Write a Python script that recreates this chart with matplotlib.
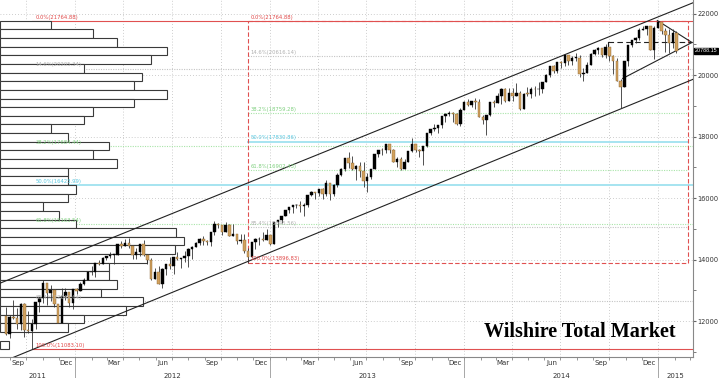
import numpy as np
import pandas as pd
import matplotlib
matplotlib.use('Agg')
import matplotlib.pyplot as plt
import matplotlib.dates as mdates
from matplotlib.patches import Rectangle
from matplotlib.transforms import blended_transform_factory

# --- weekly candles (Wilshire Total Market) ---
weeks = pd.date_range('2011-08-24', periods=181, freq='7D')

opens = [12150, 11590, 12130, 12100, 11900, 12540, 11710, 11660, 11910, 12620,
         12760, 13250, 12920, 13020, 12540, 11950, 12830, 12940, 12570, 13040,
         12970, 13200, 13320, 13580, 13590, 13890, 13860, 14060, 14110, 14150,
         14160, 14500, 14430, 14540, 14440, 14150, 14250, 14490, 14140, 13980,
         13380, 13610, 13200, 13690, 13870, 13790, 14070, 14020, 14040, 14110,
         14350, 14400, 14550, 14680, 14600, 14560, 14880, 15170, 15110, 14910,
         15120, 14780, 14830, 14610, 14630, 14280, 14070, 14580, 14660, 14680,
         14620, 14800, 14510, 15220, 15280, 15420, 15600, 15700, 15760, 15780,
         15740, 15760, 16100, 16200, 16150, 16290, 16120, 16480, 16140, 16420,
         16750, 16950, 17300, 17130, 16930, 17050, 16890, 16540, 16670, 16940,
         17440, 17560, 17550, 17750, 17550, 17180, 17270, 16950, 17180, 17520,
         17750, 17560, 17540, 17680, 18110, 18260, 18290, 18380, 18660, 18730,
         18750, 18740, 18420, 18870, 19110, 19040, 19160, 19130, 18620, 18540,
         18690, 19120, 19090, 19330, 19530, 19150, 19410, 19310, 19400, 18890,
         19390, 19380, 19560, 19530, 19530, 19760, 20010, 20280, 20130, 20420,
         20390, 20640, 20470, 20570, 20570, 20020, 20080, 20330, 20680, 20830,
         20870, 20640, 20910, 20610, 20470, 19820, 19620, 20440, 20990, 21130,
         21210, 21470, 21510, 21580, 20830, 21540, 21730, 21440, 21310, 21040, 21370]

highs = [12450, 12180, 12680, 12410, 12580, 12580, 12320, 12070, 12620, 12770,
         13330, 13250, 13170, 13050, 12540, 13080, 13060, 12940, 13040, 13080,
         13260, 13390, 13580, 13780, 13890, 13990, 14080, 14130, 14230, 14190,
         14520, 14610, 14660, 14690, 14440, 14380, 14520, 14620, 14180, 14040,
         13720, 13780, 13740, 13870, 14090, 14080, 14230, 14040, 14280, 14390,
         14430, 14570, 14700, 14760, 14620, 14880, 15260, 15180, 15120, 15210,
         15150, 15150, 14840, 14840, 14830, 14380, 14580, 14690, 14740, 14880,
         14990, 14800, 15230, 15280, 15430, 15600, 15720, 15760, 15820, 15890,
         15830, 16110, 16230, 16200, 16300, 16330, 16580, 16480, 16450, 16800,
         16970, 17300, 17510, 17380, 17090, 17170, 17180, 16820, 16940, 17440,
         17570, 17630, 17750, 17750, 17590, 17320, 17330, 17270, 17530, 17960,
         17760, 17600, 17690, 18110, 18260, 18420, 18380, 18660, 18750, 18820,
         18790, 18780, 18920, 19140, 19230, 19170, 19240, 19230, 18700, 18700,
         19120, 19200, 19420, 19580, 19580, 19580, 19590, 19730, 19480, 19400,
         19600, 19600, 19650, 19780, 19770, 20020, 20280, 20330, 20430, 20470,
         20640, 20640, 20620, 20710, 20640, 20220, 20430, 20730, 20860, 20910,
         20880, 21000, 20910, 20640, 20560, 19880, 20440, 20990, 21150, 21230,
         21540, 21580, 21590, 21580, 21600, 21765, 21740, 21520, 21510, 21510, 21430]

lows = [11560, 11440, 12060, 11750, 11710, 11490, 11620, 11083, 11730, 12280,
        12580, 12530, 12640, 12460, 11940, 11940, 12690, 12460, 12400, 12870,
        12970, 13160, 13320, 13490, 13430, 13810, 13840, 13990, 14040, 13840,
        14160, 14370, 14430, 14390, 14030, 14020, 14110, 14120, 13870, 13340,
        13380, 13190, 13080, 13490, 13680, 13520, 13990, 13720, 13920, 13760,
        14010, 14400, 14460, 14470, 14460, 14450, 14790, 15010, 14800, 14900,
        14750, 14770, 14520, 14540, 14210, 13897, 14070, 14330, 14470, 14600,
        14620, 14470, 14510, 15060, 15190, 15410, 15520, 15520, 15670, 15550,
        15410, 15720, 16060, 15960, 16050, 15970, 16070, 15940, 16070, 16370,
        16730, 16890, 16970, 16920, 16590, 16690, 16370, 16190, 16620, 16940,
        17330, 17400, 17450, 17480, 17170, 17010, 16900, 16950, 17180, 17510,
        17510, 17330, 17090, 17650, 18060, 18190, 18120, 18270, 18480, 18660,
        18470, 18390, 18340, 18870, 19000, 18960, 18880, 18620, 18410, 18060,
        18680, 18970, 19080, 19070, 19130, 19140, 19160, 19310, 18870, 18890,
        19320, 19250, 19330, 19360, 19430, 19760, 19920, 20070, 20070, 20220,
        20300, 20310, 20330, 20470, 19930, 19810, 20060, 20320, 20640, 20700,
        20590, 20570, 20440, 20030, 19820, 18940, 19610, 20290, 20910, 21050,
        21150, 21470, 21310, 20820, 20510, 21520, 21320, 20760, 20720, 20890, 20730]

closes = [11590, 12130, 12100, 11900, 12540, 11710, 11660, 11910, 12620, 12760,
          13250, 12920, 13020, 12540, 11950, 12830, 12940, 12570, 13040, 12970,
          13200, 13320, 13580, 13590, 13890, 13860, 14060, 14110, 14150, 14160,
          14500, 14430, 14540, 14440, 14150, 14250, 14490, 14140, 13980, 13380,
          13610, 13200, 13690, 13870, 13790, 14070, 14020, 14040, 14110, 14350,
          14400, 14550, 14680, 14600, 14560, 14880, 15170, 15110, 14910, 15120,
          14780, 14830, 14610, 14630, 14280, 14070, 14580, 14660, 14680, 14620,
          14800, 14510, 15220, 15280, 15420, 15600, 15700, 15760, 15780, 15740,
          15760, 16100, 16200, 16150, 16290, 16120, 16480, 16140, 16420, 16750,
          16950, 17300, 17130, 16930, 17050, 16890, 16540, 16670, 16940, 17440,
          17560, 17550, 17750, 17550, 17180, 17270, 16950, 17180, 17520, 17750,
          17560, 17540, 17680, 18110, 18260, 18290, 18380, 18660, 18730, 18750,
          18740, 18420, 18870, 19110, 19040, 19160, 19130, 18620, 18540, 18690,
          19120, 19090, 19330, 19530, 19150, 19410, 19310, 19400, 18890, 19390,
          19380, 19560, 19530, 19530, 19760, 20010, 20280, 20130, 20420, 20390,
          20640, 20470, 20570, 20570, 20020, 20080, 20330, 20680, 20830, 20870,
          20640, 20910, 20610, 20470, 19820, 19620, 20440, 20990, 21130, 21210,
          21470, 21510, 21580, 20830, 21540, 21730, 21440, 21310, 21040, 21370, 20788.15]

# --- price histogram on the left (top bin first) ---
profile = [51, 93, 117, 167, 151, 84, 142, 134, 167, 134,
           93, 84, 51, 68, 109, 93, 117, 68, 68, 76,
           68, 43, 59, 76, 176, 184, 175, 147, 109, 109,
           117, 101, 143, 126, 84, 68, 0, 9]

# --- fibonacci retracements ---
fib_levels = [0.0, 14.6, 38.2, 50.0, 61.8, 85.4, 100.0]
left_fib = [21764.88, 20205.34, 17684.44, 16423.99, 15163.54, 12642.64, 11083.10]
right_fib = [21764.88, 20616.14, 18759.28, 17830.86, 16902.43, 15045.56, 13896.83]
fib_line_colors = ['#e05050', '#c4c4c4', '#a8e4a8', '#a6e4f0', '#a8e4a8', '#c4c4c4', '#e05050']
fib_text_colors = ['#e04848', '#b0b0b0', '#80d080', '#58c8e0', '#80d080', '#b0b0b0', '#e04848']
left_fib_dates = ['2011-10-12', '2015-03-07']
right_fib_dates = ['2012-11-21', '2015-02-26']

# --- trend lines ---
upper_channel = (['2011-08-13', '2015-03-07'], [13230, 22350])
lower_channel = (['2011-08-13', '2015-03-07'], [10640, 19860])
tri_upper = (['2014-12-30', '2015-03-05'], [21773, 21058])
tri_lower = (['2014-10-26', '2015-03-05'], [19890, 21058])
neckline = (['2014-09-29', '2015-03-05'], [21058, 21058])

up_col = '#000000'
down_col = '#d1a15e'
small_font = ['Liberation Sans Narrow', 'DejaVu Sans']

fig = plt.figure(figsize=(7.19, 3.78), dpi=100)
ax = fig.add_axes([0, 21 / 378, 693 / 719, 357 / 378])
x0 = mdates.date2num(pd.Timestamp('2011-08-13'))
x1 = mdates.date2num(pd.Timestamp('2015-03-07'))
ax.set_xlim(x0, x1)
ax.set_ylim(10830, 22440)

def dn(d):
    return mdates.date2num(pd.Timestamp(d))

# grid
for q in pd.date_range('2011-10-01', '2015-01-01', freq='QS'):
    ax.axvline(dn(q), color='#bdbdbd', lw=0.6, ls=(0, (1, 2.5)), zorder=0.5)
ax.set_yticks(np.arange(12000, 22001, 2000))
ax.set_yticks(np.arange(11000, 22001, 2000), minor=True)
ax.grid(axis='y', which='major', color='#bdbdbd', lw=0.6, ls=(0, (1, 2.5)), zorder=0.5)

# fib lines
for i in range(len(fib_levels)):
    ls = '-' if fib_levels[i] in (0.0, 100.0, 50.0) else (0, (1, 1.2))
    lw = 1.4 if fib_levels[i] == 50.0 else 0.8
    ax.plot([dn(left_fib_dates[0]), dn(left_fib_dates[1])], [left_fib[i]] * 2,
            color=fib_line_colors[i], lw=lw, ls=ls, zorder=1)
    ls_r = (0, (4, 2)) if fib_levels[i] in (0.0, 100.0) else ls
    ax.plot([dn(right_fib_dates[0]), dn(right_fib_dates[1])], [right_fib[i]] * 2,
            color=fib_line_colors[i], lw=lw, ls=ls_r, zorder=1)
for d in right_fib_dates:
    ax.plot([dn(d)] * 2, [right_fib[-1], right_fib[0]], color='#e05050', lw=0.8,
            ls=(0, (4, 2)), zorder=1)

# price histogram
edges = np.linspace(left_fib[0], left_fib[-1], len(profile) + 1)
bt = blended_transform_factory(ax.transAxes, ax.transData)
for i, v in enumerate(profile):
    if v <= 0:
        continue
    ax.add_patch(Rectangle((0, edges[i + 1]), v / 693, edges[i] - edges[i + 1],
                           transform=bt, facecolor='white', edgecolor='#3a3a3a',
                           lw=0.8, zorder=2))

# fib labels
for i in range(len(fib_levels)):
    ax.text(dn('2011-10-19'), left_fib[i] + 40, f'{fib_levels[i]:.1f}%({left_fib[i]:.2f})',
            fontsize=3.8, color=fib_text_colors[i], va='bottom', ha='left', zorder=6)
    ax.text(dn('2012-11-25'), right_fib[i] + 40, f'{fib_levels[i]:.1f}%({right_fib[i]:.2f})',
            fontsize=3.8, color=fib_text_colors[i], va='bottom', ha='left', zorder=6)

# trend lines
for dates, prices in (upper_channel, lower_channel, tri_upper, tri_lower):
    ax.plot([dn(d) for d in dates], prices, color='#222222', lw=0.8, zorder=3)
ax.plot([dn(d) for d in neckline[0]], neckline[1], color='#222222', lw=0.8,
        ls=(0, (5, 3)), zorder=3)
ax.plot([dn(neckline[0][0])] * 2, [neckline[1][0], neckline[1][0] - 320],
        color='#222222', lw=0.8, zorder=3)

# candles
xs = mdates.date2num(weeks)
o = np.array(opens, float)
h = np.array(highs, float)
l = np.array(lows, float)
c = np.array(closes, float)
up = c >= o
ax.vlines(xs, l, h, color='#333333', lw=0.6, zorder=4)
body = np.maximum(np.abs(c - o), 20)
ax.bar(xs, body, bottom=np.minimum(o, c), width=4.6,
       color=np.where(up, up_col, down_col),
       edgecolor=np.where(up, up_col, '#8a6430'), lw=0.3, zorder=5)

# axes styling
for s in ('top', 'left'):
    ax.spines[s].set_visible(False)
ax.spines['right'].set_color('#888888')
ax.spines['bottom'].set_color('#888888')
ax.yaxis.tick_right()
ax.tick_params(axis='y', which='both', direction='out', length=2, colors='#666666',
               labelsize=4.8, labelcolor='#333333', pad=1)
ax.set_yticklabels([str(v) for v in range(12000, 22001, 2000)], family=small_font)

mid = [d + pd.Timedelta(days=14) for d in pd.date_range('2011-09-01', '2014-12-01', freq='3MS')]
ax.set_xticks([dn(d) for d in mid])
ax.set_xticklabels([d.strftime('%b') for d in mid], family=small_font)
ax.set_xticks([dn(d) for d in pd.date_range('2011-09-01', '2015-03-01', freq='MS')], minor=True)
ax.tick_params(axis='x', which='major', length=0, labelsize=5, labelcolor='#333333', pad=2.5)
ax.tick_params(axis='x', which='minor', length=2, color='#888888', direction='out')

xt = blended_transform_factory(ax.transData, ax.transAxes)
years = ['2011', '2012', '2013', '2014', '2015']
bounds = [x0] + [dn(f'{y}-01-01') for y in years[1:]] + [x1]
for i, y in enumerate(years):
    ax.text((bounds[i] + bounds[i + 1]) / 2, -0.045, y, transform=xt, fontsize=5,
            color='#333333', ha='center', va='top', family=small_font)
for b in bounds[1:-1]:
    ax.plot([b, b], [0, -21 / 357], transform=xt, color='#999999', lw=0.6, clip_on=False)

# last price tag
ax.text(1.002, closes[-1], f'{closes[-1]:.2f}', transform=bt, fontsize=3.9, color='white',
        va='center', ha='left', zorder=7, family='Liberation Sans',
        bbox=dict(boxstyle='square,pad=0.12', facecolor='black', edgecolor='black'))

ax.text(0.837, 0.056, 'Wilshire Total Market', transform=ax.transAxes, ha='center',
        va='baseline', fontsize=14.5, family='Liberation Serif', weight='bold',
        color='black', zorder=7)

fig.savefig('out.png', dpi=100)
